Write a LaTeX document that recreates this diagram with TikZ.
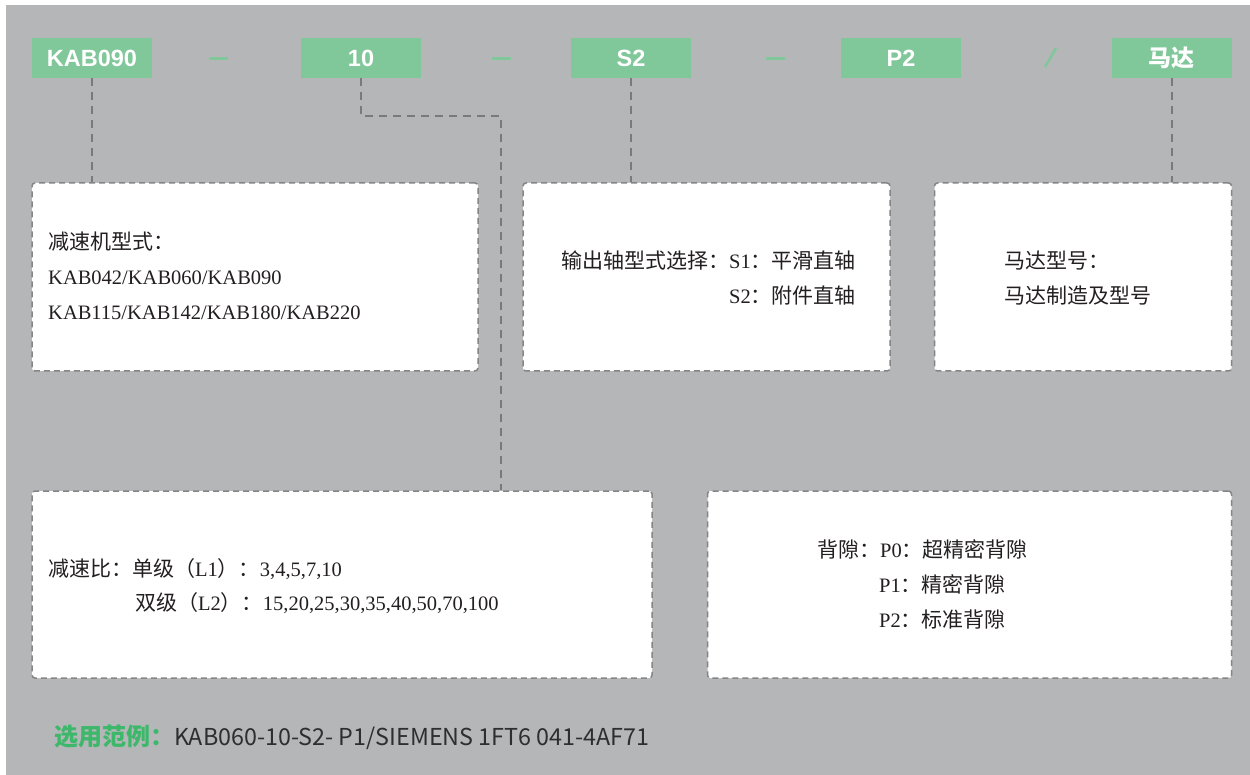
\documentclass[tikz,border=0pt]{standalone}
\usepackage{fontspec}
\setmainfont{Liberation Serif}
\newfontfamily\zhfont{Noto Sans CJK SC}
\newfontfamily\headfont{Liberation Sans}
\newcommand\zh[1]{{\zhfont\fontsize{21}{25}\selectfont #1}}
\definecolor{bg}{HTML}{B5B6B8}
\definecolor{tagg}{HTML}{80C79A}
\definecolor{exg}{HTML}{3DB86A}
\definecolor{brd}{HTML}{858585}
\definecolor{conc}{HTML}{7A7A7A}
\definecolor{txt}{HTML}{231F20}
\definecolor{extxt}{HTML}{2E2E2E}
\begin{document}
\begin{tikzpicture}[x=1pt,y=-1pt,
  tag/.style={fill=tagg, minimum width=120pt, minimum height=40pt, inner sep=0pt, text=white,
    font=\headfont\bfseries\fontsize{23.5}{28}\selectfont},
  sep/.style={draw=tagg, line width=3pt},
  box/.style={draw=brd, fill=white, dash pattern=on 6pt off 4pt, line width=1.5pt, rounded corners=3pt, inner sep=0pt},
  conn/.style={draw=conc, line width=2pt, dash pattern=on 8pt off 6pt},
  txt/.style={inner sep=0pt, text=txt, font=\fontsize{20.5}{24}\selectfont, anchor=base west},
  txte/.style={txt, anchor=base east}]
\useasboundingbox (0,0) rectangle (1250,775);
\fill[white] (0,0) rectangle (1250,775);
\fill[bg] (6,5) rectangle (1250,775);
% top tags
\node[tag] (kab) at (92,58) {KAB090};
\node[tag] (rat) at (361,58) {10};
\node[tag] (sft) at (631,58) {S2};
\node[tag] (bkl) at (901,58) {P2};
\node[tag, font=\zhfont\bfseries\fontsize{23}{26}\selectfont] (mot) at (1171.5,58) {马达};
% separators
\draw[sep] (209,59) -- (228,59);
\draw[sep] (492,59) -- (511,59);
\draw[sep] (766,59) -- (785,59);
\draw[draw=tagg, line width=2.5pt] (1045,67) -- (1056,48);
% boxes
\node[box, minimum width=446pt, minimum height=188pt] (b1) at (255,277) {};
\node[box, minimum width=367pt, minimum height=188pt] (b2) at (706.5,277) {};
\node[box, minimum width=297pt, minimum height=188pt] (b3) at (1083,277) {};
\node[box, minimum width=620pt, minimum height=187pt] (b4) at (342,584.5) {};
\node[box, minimum width=524pt, minimum height=187pt] (b5) at (969.5,584.5) {};
% connectors
\coordinate (c10) at (501,116);
\draw[conn] (kab.south) -- (kab.south |- b1.north);
\draw[conn] (rat.south) |- (c10) -- (c10 |- b4.north);
\draw[conn] (sft.south) -- (sft.south |- b2.north);
\draw[conn] (mot.south) -- (mot.south |- b3.north);
% box 1
\node[txt] (t11) at (48,250) {\zh{减速机型式：}};
\node[txt] (t12) at (48,285) {KAB042/KAB060/KAB090};
\node[txt] (t13) at (48,320) {KAB115/KAB142/KAB180/KAB220};
% box 2
\node[txte] (t21) at (856,269) {\zh{输出轴型式选择：}S1\zh{：平滑直轴}};
\node[txte] (t22) at (856,304) {S2\zh{：附件直轴}};
% box 3
\node[txt] (t31) at (1004,269) {\zh{马达型号：}};
\node[txt] (t32) at (1004,304) {\zh{马达制造及型号}};
% box 4
\node[txt] (t41) at (48,576) {\zh{减速比：单级（}L1\zh{）：}3,4,5,7,10};
\node[txt] (t42) at (135,610) {\zh{双级（}L2\zh{）：}15,20,25,30,35,40,50,70,100};
% box 5
\node[txt] (t51) at (817,557) {\zh{背隙：}P0\zh{：超精密背隙}};
\node[txt] (t52) at (879,592) {P1\zh{：精密背隙}};
\node[txt] (t53) at (879,627) {P2\zh{：标准背隙}};
% example
\node[inner sep=0pt, anchor=base west, font=\zhfont\fontsize{24}{28}\selectfont] (ex) at (54,745)
  {{\bfseries\color{exg}选用范例：}{\color{extxt}\fontsize{23.3}{28}\selectfont KAB060-10-S2- P1/SIEMENS 1FT6 041-4AF71}};
\end{tikzpicture}
\end{document}
